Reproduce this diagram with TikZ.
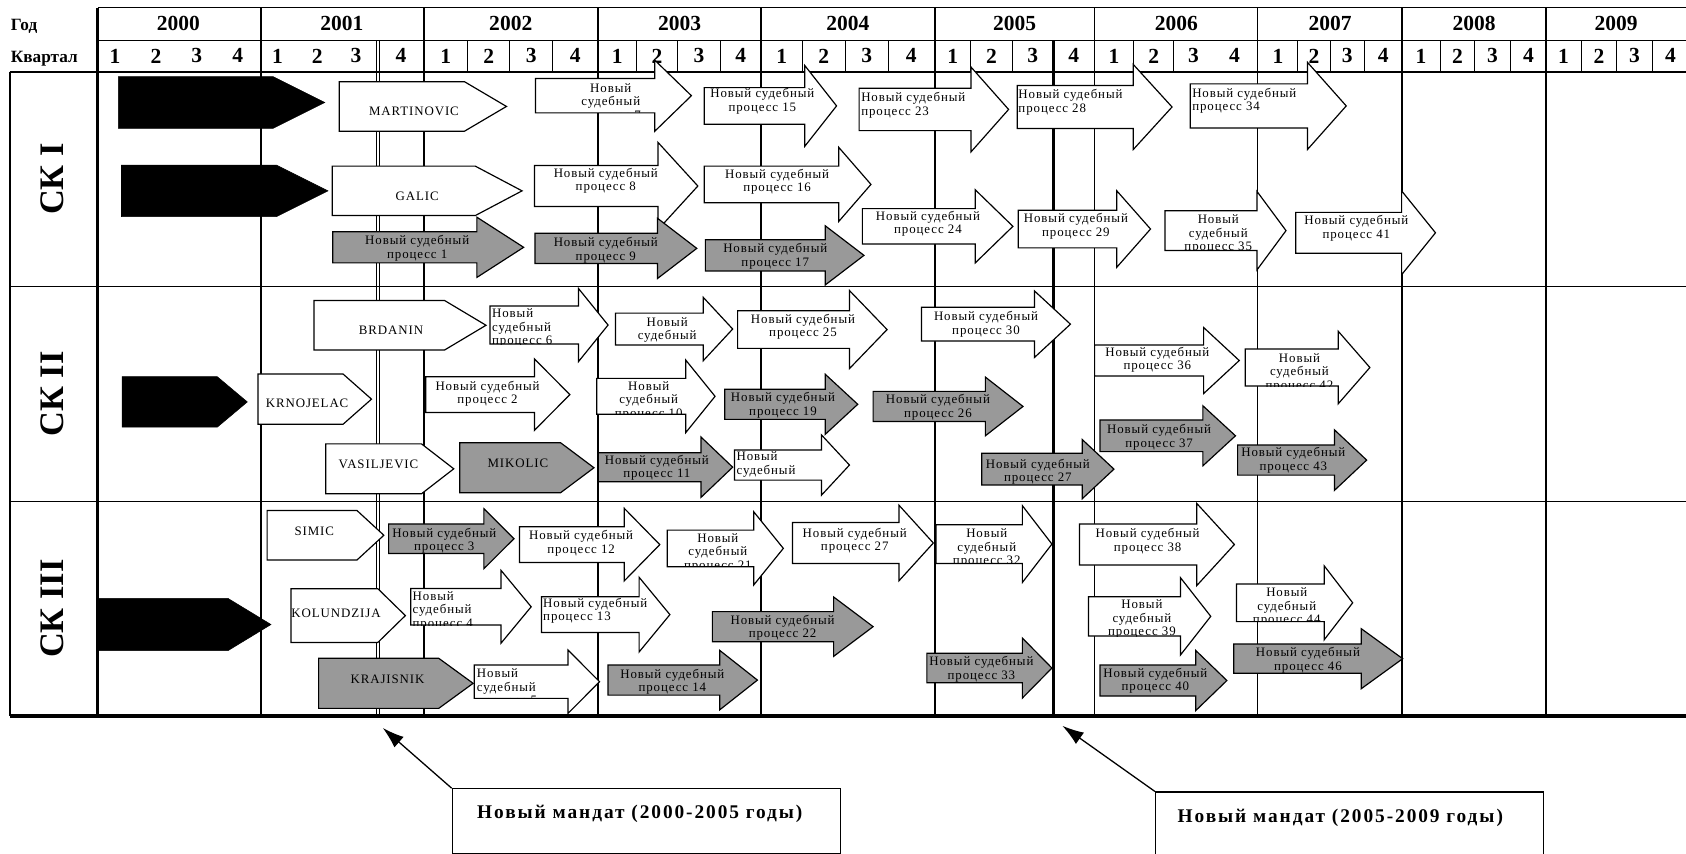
\documentclass[tikz,border=0pt]{standalone}
\usepackage{fontspec}
\setmainfont{Liberation Serif}
\newfontfamily\tx[LetterSpace=7]{Liberation Serif}
\newfontfamily\txb[LetterSpace=10]{Liberation Serif}
\usetikzlibrary{arrows.meta}
\definecolor{agray}{RGB}{153,153,153}
% block arrow: [style]{x left}{x head base}{x tip}{y centre}{shaft half}{head half}
\newcommand\blkarr[7][wa]{\draw[#1] (#2,#5-#6) -- (#3,#5-#6) -- (#3,#5-#7) -- (#4,#5) -- (#3,#5+#7) -- (#3,#5+#6) -- (#2,#5+#6) -- cycle;}
% pentagon: [style]{x left}{x body end}{x tip}{y centre}{half height}
\newcommand\pentarr[6][wa]{\draw[#1] (#2,#5-#6) -- (#3,#5-#6) -- (#4,#5) -- (#3,#5+#6) -- (#2,#5+#6) -- cycle;}
\newcommand\clipped[5]{\begin{scope}\clip (#1,#2) rectangle (#3,#4); #5\end{scope}}
\begin{document}
\begin{tikzpicture}[x=1pt,y=-1pt,
  wa/.style={draw=black,fill=white,line width=1.1pt},
  ga/.style={draw=black,fill=agray,line width=1.1pt},
  ba/.style={draw=black,fill=black,line width=0.5pt},
  txt/.style={font=\tx\fontsize{12}{12.6}\selectfont,align=center,inner sep=0pt},
  txl/.style={txt,align=left,anchor=west},
  hdr/.style={font=\fontsize{20}{22}\selectfont\bfseries,inner sep=0pt},
  lbl/.style={font=\fontsize{16}{18}\selectfont\bfseries,anchor=base west,inner sep=0pt},
  sk/.style={font=\fontsize{32}{34}\selectfont\bfseries,rotate=90,inner sep=0pt},
  mbox/.style={draw=black,line width=1.2pt,fill=white,inner sep=0pt,anchor=north west},
  mtxt/.style={font=\txb\bfseries\fontsize{18}{20}\selectfont,inner sep=0pt},
  callout/.style={line width=1.2pt,-{Latex[length=20pt,width=13pt]}},
  gl/.style={line width=1.4pt},
  gm/.style={line width=1.6pt},
  gt/.style={line width=2.6pt},
  gb/.style={line width=3.6pt},
  gq/.style={line width=0.8pt}]
\useasboundingbox (0,0) rectangle (1568,794);
% ---------------- grid ----------------
\draw[gl] (91,7) -- (1568,7);
\draw[gl] (91,37.5) -- (1568,37.5);
\draw[gm] (9,67) -- (1568,67);
\draw[gm] (9,266.5) -- (1568,266.5);
\draw[gm] (9,466.5) -- (1568,466.5);
\draw[gm] (9,67) -- (9,665.5);
\foreach \x in {242.5,394,556,708,869.5,1018,1169.5,1304,1438} \draw[gm] (\x,7) -- (\x,665.5);
\foreach \x in {435,474,514,592,630,670,746,786,826,902.5,942,1054.5,1091,1207,1237,1269,1339.5,1371.5,1405,1470.5,1503,1537} \draw[gq] (\x,37.5) -- (\x,67);
\draw[gt] (979.5,37.5) -- (979.5,665.5);
\draw[gq] (350.3,37.5) -- (350.3,665.5);
\draw[gq] (352.8,37.5) -- (352.8,665.5);
\draw[gt] (91,7) -- (91,665.5);
\draw[gb] (9,665.5) -- (1568,665.5);
% ---------------- header ----------------
\node[lbl] (lgod) at (10,28) {Год};
\node[lbl] (lkv) at (10,58) {Квартал};
\foreach \x/\t in {166/2000,318/2001,475/2002,632/2003,788.5/2004,943.5/2005,1094/2006,1237/2007,1371/2008,1503/2009}
  \node[hdr] (y\t) at (\x,22) {\t};
\foreach \x/\t [count=\i] in {107/1,145/2,183/3,221/4,258/1,295/2,331/3,373/4,414.5/1,454.5/2,494/3,535/4,574/1,611/2,650/3,689/4,727/1,766/2,806/3,847.5/4,886/1,922/2,960.5/3,998.5/4,1036/1,1073/2,1110/3,1148/4,1188.5/1,1222/2,1253/3,1286.5/4,1321.5/1,1355.5/2,1388/3,1421.5/4,1454/1,1487/2,1520/3,1553.5/4}
  \node[hdr] (q\i) at (\x,52) {\t};
\node[sk] (sk1) at (49,166.5) {СК I};
\node[sk] (sk2) at (49,366.5) {СК II};
\node[sk] (sk3) at (49,566) {СК III};
% ---------------- СК I ----------------
\pentarr[ba]{110}{254}{302}{95.3}{24}
\pentarr[ba]{113}{257}{305}{177.5}{24}
\pentarr{315.5}{432}{471}{99}{23}
\node[txt] (martinovic) at (385,104) {MARTINOVIC};
\pentarr{309}{442}{485.5}{177.5}{23}
\node[txt] (galic) at (388,183) {GALIC};
\blkarr[ga]{309.5}{443.5}{487}{230}{14.5}{28}
\node[txt] (p1) at (388,231) {Новый судебный\\процесс 1};
\blkarr{498}{609}{643}{89}{16}{33}
\clipped{498}{73}{609}{105}{\node[txt] (p7) at (568,95.5) {Новый\\судебный\\процесс 7};}
\blkarr{655}{748.5}{778}{98.5}{17}{37.5}
\node[txt] (p15) at (709,94.3) {Новый судебный\\процесс 15};
\blkarr{799}{903}{938}{101.8}{19.7}{39.5}
\node[txl] (p23) at (800.8,97.7) {Новый судебный\\процесс 23};
\blkarr{946}{1054}{1090}{99.5}{20}{39.5}
\node[txl] (p28) at (947,95) {Новый судебный\\процесс 28};
\blkarr{1107}{1216}{1252}{98.5}{20.5}{40.5}
\node[txl] (p34) at (1108.6,93.8) {Новый судебный\\процесс 34};
\blkarr{497}{612}{649}{173}{19}{40.5}
\node[txt] (p8) at (563.4,168.3) {Новый судебный\\процесс 8};
\blkarr{655}{780}{810}{171.5}{17}{34.5}
\node[txt] (p16) at (722.7,169) {Новый судебный\\процесс 16};
\blkarr{802}{907}{942}{210.5}{16.5}{34}
\node[txt] (p24) at (863,208.3) {Новый судебный\\процесс 24};
\blkarr{947}{1038.5}{1070}{213}{17.5}{35.7}
\node[txt] (p29) at (1000.6,210.5) {Новый судебный\\процесс 29};
\blkarr{1083.5}{1169}{1196}{214.5}{18.5}{36.5}
\clipped{1083.5}{196}{1169}{233}{\node[txt] (p35) at (1133,217.6) {Новый\\судебный\\процесс 35};}
\blkarr{1205}{1303.5}{1335}{216.5}{19}{39}
\node[txt] (p41) at (1261.4,212.4) {Новый судебный\\процесс 41};
\blkarr[ga]{497.5}{611.5}{648}{231}{14}{28}
\node[txt] (p9) at (563.4,232.5) {Новый судебный\\процесс 9};
\blkarr[ga]{656}{767.5}{803.5}{237.5}{14.5}{27.5}
\node[txt] (p17) at (721,238.4) {Новый судебный\\процесс 17};
% ---------------- СК II ----------------
\pentarr{292}{413.5}{452}{302.5}{23}
\node[txt] (brdanin) at (363.7,307.5) {BRDANIN};
\blkarr{455.7}{538}{565.5}{302.3}{17.7}{34}
\clipped{455.7}{284.6}{538}{320}{\node[txl] (p6) at (457.5,305.4) {Новый\\судебный\\процесс 6};}
\pentarr[ba]{113.6}{202}{230}{373.8}{23.5}
\pentarr{240}{319}{345.5}{371.2}{23.4}
\node[txt] (krnojelac) at (285.6,375) {KRNOJELAC};
\blkarr{396}{497}{530}{367}{16.7}{33.2}
\node[txt] (p2) at (453.4,366.1) {Новый судебный\\процесс 2};
\pentarr{303}{392}{422}{436}{23.2}
\node[txt] (vasiljevic) at (352,431.5) {VASILJEVIC};
\pentarr[ga]{427.5}{521.4}{552.4}{435}{23.2}
\node[txt] (mikolic) at (481.6,431) {MIKOLIC};
\blkarr{572.4}{654}{681.4}{306}{14.8}{29.5}
\node[txt] (p18) at (620.5,306.9) {Новый\\судебный};
\blkarr{686}{790}{825}{306.5}{17.5}{36.3}
\node[txt] (p25) at (746.8,303.8) {Новый судебный\\процесс 25};
\blkarr{857}{962}{995.5}{301.5}{15.7}{31}
\node[txt] (p30) at (917,301.5) {Новый судебный\\процесс 30};
\blkarr{555}{637.7}{665}{368.6}{16.7}{33.8}
\clipped{555}{352}{637.7}{385.3}{\node[txt] (p10) at (603.3,372.6) {Новый\\судебный\\процесс 10};}
\blkarr[ga]{674}{767.4}{797.7}{376}{14}{28}
\node[txt] (p19) at (728.2,376.7) {Новый судебный\\процесс 19};
\blkarr[ga]{812}{916.4}{951.4}{378}{14}{27.3}
\node[txt] (p26) at (872.3,378.8) {Новый судебный\\процесс 26};
\blkarr[ga]{556.5}{652}{681.4}{434.5}{13.5}{28}
\node[txt] (p11) at (610.9,435.1) {Новый судебный\\процесс 11};
\blkarr{683}{764}{790}{432.5}{14}{28}
\node[txl] (p20) at (684.8,432) {Новый\\судебный};
\blkarr[ga]{913}{1006.5}{1036}{436.3}{14.7}{27.5}
\node[txt] (p27a) at (965.2,438.6) {Новый судебный\\процесс 27};
\blkarr{1018}{1119.4}{1152.5}{335.3}{14.4}{30.7}
\node[txt] (p36) at (1076.3,334.5) {Новый судебный\\процесс 36};
\blkarr{1158}{1244.5}{1274}{341.8}{17.2}{33.8}
\clipped{1158}{324.6}{1244.5}{359}{\node[txt] (p42) at (1208.5,346.6) {Новый\\судебный\\процесс 42};}
\blkarr[ga]{1023}{1118.7}{1149}{405.3}{14.7}{27.9}
\node[txt] (p37) at (1078,406.4) {Новый судебный\\процесс 37};
\blkarr[ga]{1151}{1241}{1271}{427.9}{14}{28.2}
\node[txt] (p43) at (1202.8,427.8) {Новый судебный\\процесс 43};
% ---------------- СК III ----------------
\pentarr[ba]{90}{212}{252}{580.8}{24.3}
\pentarr{248.4}{332}{357}{497.8}{23}
\node[txt] (simic) at (292.3,494) {SIMIC};
\blkarr[ga]{361.4}{450}{478}{501}{13.7}{27.9}
\node[txt] (p3) at (413.2,502.8) {Новый судебный\\процесс 3};
\blkarr{483.2}{580.6}{613.6}{506.5}{16.7}{33.7}
\node[txt] (p12) at (540.4,505.3) {Новый судебный\\процесс 12};
\pentarr{270.7}{351.4}{377}{572.5}{25}
\node[txt] (kolundzija) at (312.5,570.4) {KOLUNDZIJA};
\blkarr{382}{466}{494}{564.3}{17}{33.8}
\clipped{382}{547.3}{466}{581.3}{\node[txl] (p4) at (383.6,567.9) {Новый\\судебный\\процесс 4};}
\blkarr{503.6}{594.4}{623}{571.6}{16.7}{34.7}
\node[txl] (p13) at (505,567.9) {Новый судебный\\процесс 13};
\pentarr[ga]{296.3}{408}{440}{635.5}{23.3}
\node[txt] (krajisnik) at (360.4,631.8) {KRAJISNIK};
\blkarr{441}{528.3}{557.6}{634}{15.5}{29.4}
\clipped{441}{618.5}{528.3}{649.5}{\node[txl] (p5) at (443.4,640.2) {Новый\\судебный\\процесс 5};}
\blkarr[ga]{565.5}{669.4}{704.4}{632.5}{14}{27.6}
\node[txt] (p14) at (625.3,634) {Новый судебный\\процесс 14};
\blkarr{620.5}{701}{728.5}{510}{17}{34}
\clipped{620.5}{493}{701}{527}{\node[txt] (p21) at (667.6,514) {Новый\\судебный\\процесс 21};}
\blkarr[ga]{662.5}{775.3}{812}{582.8}{14}{27.6}
\node[txt] (p22) at (727.8,583.7) {Новый судебный\\процесс 22};
\blkarr{737}{836}{868}{505}{19}{35.2}
\node[txt] (p27b) at (794.9,503.1) {Новый судебный\\процесс 27};
\blkarr{870.6}{950.8}{978.3}{506}{18}{35.7}
\clipped{870.6}{488}{950.8}{524}{\node[txt] (p32) at (917.7,509.9) {Новый\\судебный\\процесс 32};}
\blkarr[ga]{862}{950.8}{978.3}{621.3}{13.7}{27.9}
\node[txt] (p33) at (912.7,622.5) {Новый судебный\\процесс 33};
\blkarr{1004}{1113}{1148}{506.4}{19.1}{38.2}
\node[txt] (p38) at (1067.3,503.2) {Новый судебный\\процесс 38};
\blkarr{1012.3}{1097.8}{1126}{573.2}{18.3}{36}
\clipped{1012.3}{554.9}{1097.8}{591.5}{\node[txt] (p39) at (1062,576) {Новый\\судебный\\процесс 39};}
\blkarr[ga]{1023}{1112}{1141}{632.9}{14.4}{28}
\node[txt] (p40) at (1074.5,633) {Новый судебный\\процесс 40};
\blkarr{1150}{1231.5}{1258}{560.6}{17.5}{34.4}
\clipped{1150}{543.1}{1231.5}{578.1}{\node[txt] (p44) at (1196.7,564.8) {Новый\\судебный\\процесс 44};}
\blkarr[ga]{1147.4}{1266}{1304.5}{612.6}{13.6}{27.9}
\node[txt] (p46) at (1216.4,614.1) {Новый судебный\\процесс 46};
% ---------------- mandate call-outs ----------------
\node[mbox,minimum width=361pt,minimum height=60pt] (m1) at (420,733) {};
\node[mtxt] (m1t) at (595,757) {Новый мандат (2000-2005 годы)};
\node[mbox,minimum width=361pt,minimum height=66pt] (m2) at (1074,736) {};
\node[mtxt] (m2t) at (1246.5,761) {Новый мандат (2005-2009 годы)};
\coordinate (t1) at (356,677);
\coordinate (t2) at (988,675);
\draw[callout] (m1.north west) -- (t1);
\draw[callout] (m2.north west) -- (t2);
\end{tikzpicture}
\end{document}
